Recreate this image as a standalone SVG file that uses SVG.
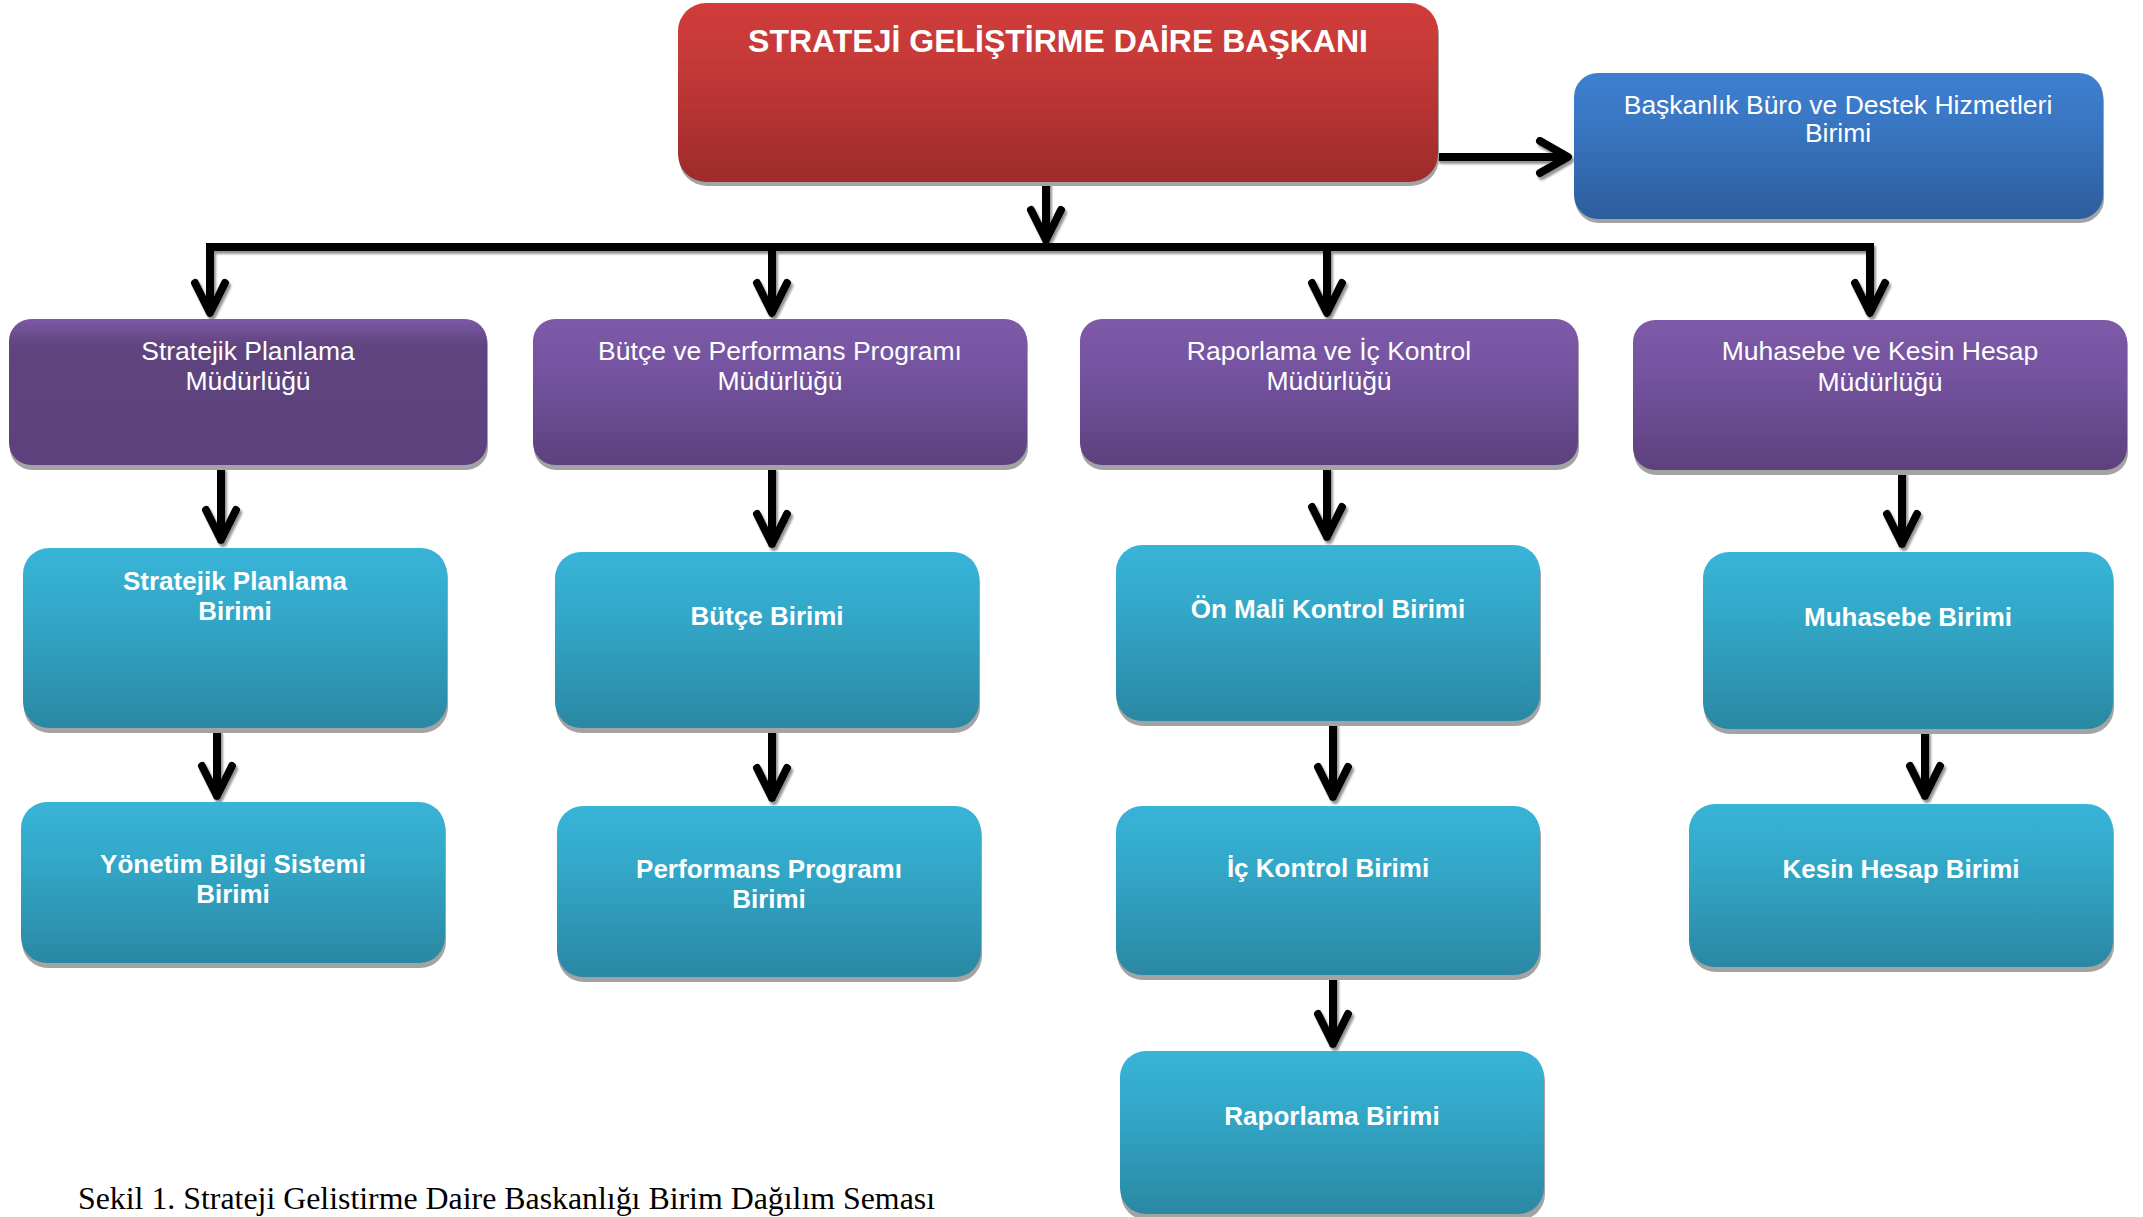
<svg xmlns="http://www.w3.org/2000/svg" width="2143" height="1217" viewBox="0 0 2143 1217">
<defs>
<linearGradient id="gRed" x1="0" y1="0" x2="0" y2="1">
<stop offset="0" stop-color="#d03c3a"/><stop offset="0.3" stop-color="#c63a38"/><stop offset="1" stop-color="#9e2b2b"/>
</linearGradient>
<linearGradient id="gBlue" x1="0" y1="0" x2="0" y2="1">
<stop offset="0" stop-color="#3e80d0"/><stop offset="0.35" stop-color="#3976c2"/><stop offset="1" stop-color="#2e5d9d"/>
</linearGradient>
<linearGradient id="gPurple" x1="0" y1="0" x2="0" y2="1">
<stop offset="0" stop-color="#7e5aa8"/><stop offset="0.35" stop-color="#7553a0"/><stop offset="1" stop-color="#5d417e"/>
</linearGradient>
<linearGradient id="gPurple1" x1="0" y1="0" x2="0" y2="1">
<stop offset="0" stop-color="#7c59a6"/><stop offset="0.18" stop-color="#60447f"/><stop offset="1" stop-color="#5c417d"/>
</linearGradient>
<linearGradient id="gCyan" x1="0" y1="0" x2="0" y2="1">
<stop offset="0" stop-color="#38b4d8"/><stop offset="0.35" stop-color="#33a8c9"/><stop offset="1" stop-color="#2a88a3"/>
</linearGradient>
<filter id="lineShadow" x="-20%" y="-20%" width="140%" height="140%">
<feDropShadow dx="2" dy="3" stdDeviation="0.8" flood-color="#808080" flood-opacity="0.85"/>
</filter>
</defs>
<style>
.sh{fill:#a3a3a3}
.red{fill:url(#gRed)}
.blue{fill:url(#gBlue)}
.pur{fill:url(#gPurple)}
.pur1{fill:url(#gPurple1)}
.cyan{fill:url(#gCyan)}
.t{fill:#ffffff;font-family:"Liberation Sans",Arial,sans-serif;text-anchor:middle}
.tb{font-size:32px;font-weight:bold}
.tr{font-size:26.5px}
.tc{font-size:26px;font-weight:bold}
.conn{fill:none;stroke:#000;stroke-width:8;stroke-linejoin:round;stroke-linecap:round}
.bar{fill:none;stroke:#000;stroke-width:8;stroke-linecap:butt}
.cap{font-family:"Liberation Serif","Times New Roman",serif;font-size:32px;fill:#000}
</style>
<rect width="2143" height="1217" fill="#ffffff"/>

<g id="connectors" filter="url(#lineShadow)">
<path class="conn" d="M1046 180 V240 M1031 210 L1046 240 L1061 210"/>
<path class="conn" d="M1440 157 H1567 M1540 141 L1568 157 L1540 173"/>
<path class="bar" d="M206 247 H1874 M210 243 V312 M772 243 V312 M1327 243 V312 M1870 243 V312"/>
<path class="conn" d="M195 283 L210 313 L225 283 M757 283 L772 313 L787 283 M1312 283 L1327 313 L1342 283 M1855 283 L1870 313 L1885 283"/>
<path class="conn" d="M221 470 V540 M206 510 L221 540 L236 510"/>
<path class="conn" d="M217 732 V796 M202 766 L217 796 L232 766"/>
<path class="conn" d="M772 470 V544 M757 514 L772 544 L787 514"/>
<path class="conn" d="M772 732 V798 M757 768 L772 798 L787 768"/>
<path class="conn" d="M1327 470 V537 M1312 507 L1327 537 L1342 507"/>
<path class="conn" d="M1333 725 V797 M1318 767 L1333 797 L1348 767"/>
<path class="conn" d="M1333 979 V1044 M1318 1014 L1333 1044 L1348 1014"/>
<path class="conn" d="M1902 474 V544 M1887 514 L1902 544 L1917 514"/>
<path class="conn" d="M1925 733 V796 M1910 766 L1925 796 L1940 766"/>
</g>

<g id="n-baskan">
<rect class="sh" x="679" y="7" width="760" height="179" rx="28"/>
<rect class="red" x="678" y="3" width="760" height="179" rx="28"/>
<text class="t tb" x="1058" y="52">STRATEJİ GELİŞTİRME DAİRE BAŞKANI</text>
</g>

<g id="n-buro">
<rect class="sh" x="1575" y="77" width="529" height="146" rx="24"/>
<rect class="blue" x="1574" y="73" width="529" height="146" rx="24"/>
<text class="t tr" x="1838" y="114">Başkanlık Büro ve Destek Hizmetleri</text>
<text class="t tr" x="1838" y="142">Birimi</text>
</g>

<g id="n-spm">
<rect class="sh" x="10" y="323" width="478" height="147" rx="22"/>
<rect class="pur1" x="9" y="319" width="478" height="146" rx="22"/>
<text class="t tr" x="248" y="360">Stratejik Planlama</text>
<text class="t tr" x="248" y="390">Müdürlüğü</text>
</g>

<g id="n-bppm">
<rect class="sh" x="534" y="323" width="494" height="147" rx="22"/>
<rect class="pur" x="533" y="319" width="494" height="146" rx="22"/>
<text class="t tr" x="780" y="360">Bütçe ve Performans Programı</text>
<text class="t tr" x="780" y="390">Müdürlüğü</text>
</g>

<g id="n-rikm">
<rect class="sh" x="1081" y="323" width="498" height="147" rx="22"/>
<rect class="pur" x="1080" y="319" width="498" height="146" rx="22"/>
<text class="t tr" x="1329" y="360">Raporlama ve İç Kontrol</text>
<text class="t tr" x="1329" y="390">Müdürlüğü</text>
</g>

<g id="n-mkhm">
<rect class="sh" x="1634" y="324" width="494" height="151" rx="22"/>
<rect class="pur" x="1633" y="320" width="494" height="150" rx="22"/>
<text class="t tr" x="1880" y="360">Muhasebe ve Kesin Hesap</text>
<text class="t tr" x="1880" y="391">Müdürlüğü</text>
</g>

<g id="n-spb">
<rect class="sh" x="24" y="552" width="424" height="181" rx="26"/>
<rect class="cyan" x="23" y="548" width="424" height="180" rx="26"/>
<text class="t tc" x="235" y="590">Stratejik Planlama</text>
<text class="t tc" x="235" y="620">Birimi</text>
</g>

<g id="n-ybs">
<rect class="sh" x="22" y="806" width="424" height="162" rx="26"/>
<rect class="cyan" x="21" y="802" width="424" height="161" rx="26"/>
<text class="t tc" x="233" y="873">Yönetim Bilgi Sistemi</text>
<text class="t tc" x="233" y="903">Birimi</text>
</g>

<g id="n-butce">
<rect class="sh" x="556" y="556" width="424" height="177" rx="26"/>
<rect class="cyan" x="555" y="552" width="424" height="176" rx="26"/>
<text class="t tc" x="767" y="625">Bütçe Birimi</text>
</g>

<g id="n-perf">
<rect class="sh" x="558" y="810" width="424" height="172" rx="26"/>
<rect class="cyan" x="557" y="806" width="424" height="171" rx="26"/>
<text class="t tc" x="769" y="878">Performans Programı</text>
<text class="t tc" x="769" y="908">Birimi</text>
</g>

<g id="n-onmali">
<rect class="sh" x="1117" y="549" width="424" height="177" rx="26"/>
<rect class="cyan" x="1116" y="545" width="424" height="176" rx="26"/>
<text class="t tc" x="1328" y="618">Ön Mali Kontrol Birimi</text>
</g>

<g id="n-ickontrol">
<rect class="sh" x="1117" y="810" width="424" height="170" rx="26"/>
<rect class="cyan" x="1116" y="806" width="424" height="169" rx="26"/>
<text class="t tc" x="1328" y="877">İç Kontrol Birimi</text>
</g>

<g id="n-raporlama">
<rect class="sh" x="1121" y="1055" width="424" height="165" rx="26"/>
<rect class="cyan" x="1120" y="1051" width="424" height="163" rx="26"/>
<text class="t tc" x="1332" y="1125">Raporlama Birimi</text>
</g>

<g id="n-muhasebe">
<rect class="sh" x="1704" y="556" width="410" height="178" rx="26"/>
<rect class="cyan" x="1703" y="552" width="410" height="177" rx="26"/>
<text class="t tc" x="1908" y="626">Muhasebe Birimi</text>
</g>

<g id="n-kesin">
<rect class="sh" x="1690" y="808" width="424" height="164" rx="26"/>
<rect class="cyan" x="1689" y="804" width="424" height="163" rx="26"/>
<text class="t tc" x="1901" y="878">Kesin Hesap Birimi</text>
</g>

<text class="cap" x="78" y="1209" textLength="857" lengthAdjust="spacingAndGlyphs">Sekil 1. Strateji Gelistirme Daire Baskanlığı Birim Dağılım Seması</text>
</svg>
